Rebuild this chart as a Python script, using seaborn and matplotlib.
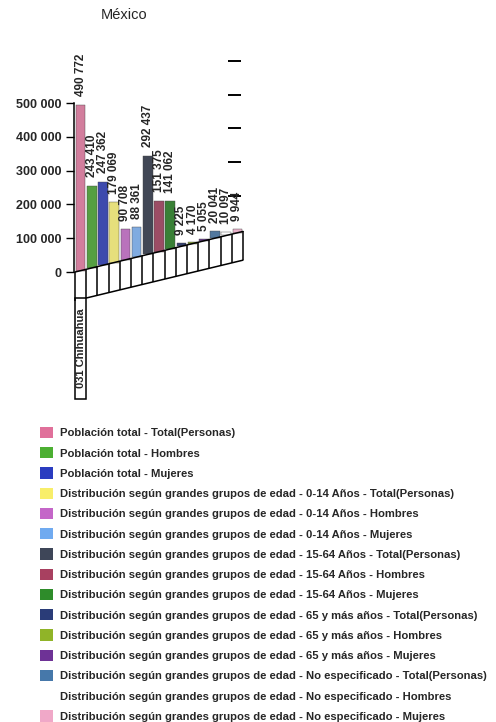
import numpy as np
import pandas as pd
import matplotlib
matplotlib.use("Agg")
import matplotlib.pyplot as plt
from matplotlib.patches import Patch, Rectangle
import seaborn as sns

titulo = "México"
municipio = "031 Chihuahua"
series = [
    "Población total - Total(Personas)",
    "Población total - Hombres",
    "Población total - Mujeres",
    "Distribución según grandes grupos de edad - 0-14 Años - Total(Personas)",
    "Distribución según grandes grupos de edad - 0-14 Años - Hombres",
    "Distribución según grandes grupos de edad - 0-14 Años - Mujeres",
    "Distribución según grandes grupos de edad - 15-64 Años - Total(Personas)",
    "Distribución según grandes grupos de edad - 15-64 Años - Hombres",
    "Distribución según grandes grupos de edad - 15-64 Años - Mujeres",
    "Distribución según grandes grupos de edad - 65 y más años - Total(Personas)",
    "Distribución según grandes grupos de edad - 65 y más años - Hombres",
    "Distribución según grandes grupos de edad - 65 y más años - Mujeres",
    "Distribución según grandes grupos de edad - No especificado - Total(Personas)",
    "Distribución según grandes grupos de edad - No especificado - Hombres",
    "Distribución según grandes grupos de edad - No especificado - Mujeres",
]
valores = [490772, 243410, 247362, 179069, 90708, 88361, 292437, 151375,
           141062, 9225, 4170, 5055, 20041, 10097, 9944]
colores = ["#e0709a", "#4caf32", "#2a3cc0", "#f8ee6a", "#c466c8", "#70aaf0",
           "#3e4658", "#a84060", "#2e8c2a", "#2a3c78", "#90b428", "#6e3296",
           "#4678aa", "#ffffff", "#f0a8c8"]
yticks = [0, 100000, 200000, 300000, 400000, 500000]
ytick_labels = ["0", "100 000", "200 000", "300 000", "400 000", "500 000"]

sns.set_theme(style="white")
plt.rcParams["font.family"] = ["Liberation Sans", "DejaVu Sans"]

df = pd.DataFrame({"pos": range(len(valores)), "valor": valores, "serie": series})

fig = plt.figure(figsize=(4.96, 7.22), dpi=100)
ax = fig.add_axes([74 / 496, 1 - 400 / 722, 176 / 496, 370 / 722])

sns.barplot(data=df, x="pos", y="valor", hue="serie", hue_order=series,
            palette=colores, dodge=False, legend=False, width=0.85,
            edgecolor="#444444", linewidth=0.3, ax=ax)

# pseudo 3D floor: bars sit on a sloping base
pendiente = 8000
profundidad = 85000
n = len(valores)
for p in ax.patches:
    c = p.get_x() + p.get_width() / 2
    p.set_y(pendiente * (c + 0.5))

for i, p in enumerate(sorted(ax.patches, key=lambda q: q.get_x())):
    c = p.get_x() + p.get_width() / 2
    top = p.get_y() + p.get_height()
    ax.annotate(f"{valores[i]:,}".replace(",", " "), (c, top),
                xytext=(0, 6), textcoords="offset points", rotation=90,
                ha="center", va="bottom", fontsize=8.5, fontweight="bold")

xs = np.arange(-0.5, n + 0.5, 1.0)
base_top = pendiente * (xs + 0.5)
base_bot = base_top - profundidad
ax.plot(xs, base_top, color="black", lw=1.1, clip_on=False)
ax.plot(xs[1:], base_bot[1:], color="black", lw=1.1, clip_on=False)
ax.vlines(xs, base_bot, base_top, color="black", lw=1.1, clip_on=False)
ax.add_patch(Rectangle((-0.5, -375000), 1.0, base_bot[1] + 375000,
                       fill=False, edgecolor="black", lw=1.1, clip_on=False))
ax.text(0, -226000, municipio, rotation=90, ha="center", va="center",
        fontsize=8, fontweight="bold")

ax.hlines(np.array(yticks[1:]) + 125000, 13.2, 14.3, color="black", lw=1.4)

ax.set_xlim(-0.59, 15.13)
ax.set_ylim(-378700, 716000)
ax.set_yticks(yticks)
ax.set_yticklabels(ytick_labels, fontsize=9, fontweight="bold")
ax.set_xticks([])
ax.set_xlabel("")
ax.set_ylabel("")
ax.tick_params(axis="y", left=True, length=6, width=1, color="black", pad=3)
for s in ["top", "right", "bottom"]:
    ax.spines[s].set_visible(False)
ax.spines["left"].set_bounds(0, 500000)
ax.spines["left"].set_color("black")
ax.spines["left"].set_linewidth(1.1)

fig.text(124 / 496, 1 - 15 / 722, titulo, ha="center", va="center", fontsize=10.5)

handles = [Patch(facecolor=c, edgecolor="none", label=s) for c, s in zip(colores, series)]
fig.legend(handles=handles, loc="upper left", bbox_to_anchor=(40 / 496, 1 - 427 / 722),
           frameon=False, handlelength=1.14, handleheight=1.14,
           handletextpad=0.6, labelspacing=0.78, borderpad=0, borderaxespad=0,
           prop={"weight": "bold", "size": 8.15})

fig.savefig("out.png", dpi=100)
